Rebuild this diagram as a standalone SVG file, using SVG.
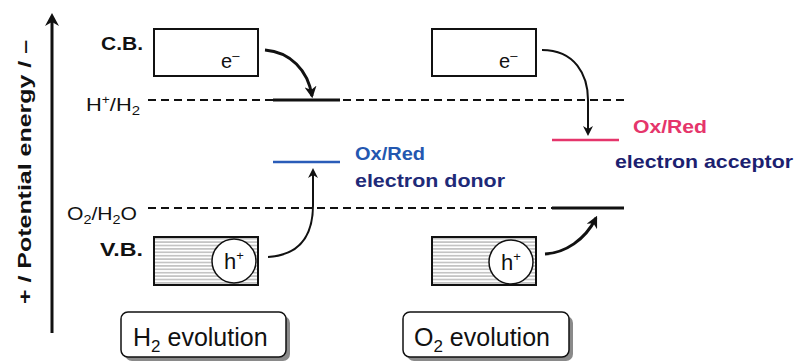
<svg xmlns="http://www.w3.org/2000/svg" width="798" height="362" viewBox="0 0 798 362">
<style>
  text { font-family: "Liberation Sans", Arial, sans-serif; fill: #111; }
  .b { font-weight: bold; }
  .band { fill: #fff; stroke: #111; stroke-width: 2; }
  .dash { stroke: #111; stroke-width: 2; stroke-dasharray: 8 5; fill: none; }
  .lvl { stroke: #111; stroke-width: 3; }
  .arr { fill: none; stroke: #111; }
  .hatch { stroke: #9a9a9a; stroke-width: 1; }
  .lab { fill: #fff; stroke: #111; stroke-width: 1.5; }
  .shadow { fill: #8a8a8a; }
</style>
<defs>
  <marker id="ah" viewBox="0 0 10 10" refX="8" refY="5" markerWidth="5" markerHeight="5" orient="auto" markerUnits="strokeWidth">
    <path d="M0,0 L10,5 L0,10 L3,5 Z" fill="#111"/>
  </marker>
  <marker id="ah2" viewBox="0 0 10 10" refX="8" refY="5" markerWidth="4" markerHeight="4" orient="auto" markerUnits="strokeWidth">
    <path d="M0,0 L10,5 L0,10 L3,5 Z" fill="#111"/>
  </marker>
  <pattern id="hp" width="8" height="3.4" patternUnits="userSpaceOnUse" y="237">
    <line x1="0" y1="1.7" x2="8" y2="1.7" class="hatch"/>
  </pattern>
</defs>

<g id="axis">
  <line x1="52" y1="333" x2="52" y2="22" stroke="#111" stroke-width="3"/>
  <path d="M52,13 L59,26 L52,22 L45,26 Z" fill="#111"/>
  <text class="b" font-size="19" transform="translate(31,172) rotate(-90)" text-anchor="middle" textLength="264" lengthAdjust="spacingAndGlyphs">+ / Potential energy / –</text>
</g>

<g id="levels">
  <text x="86" y="111" font-size="19" textLength="54" lengthAdjust="spacingAndGlyphs">H<tspan font-size="12" dy="-7">+</tspan><tspan dy="7">/H</tspan><tspan font-size="13" dy="4">2</tspan></text>
  <text x="67" y="220" font-size="19" textLength="70" lengthAdjust="spacingAndGlyphs">O<tspan font-size="13" dy="4">2</tspan><tspan dy="-4">/H</tspan><tspan font-size="13" dy="4">2</tspan><tspan dy="-4">O</tspan></text>
  <line class="dash" x1="148" y1="100" x2="625" y2="100"/>
  <line class="dash" x1="148" y1="208" x2="625" y2="208"/>
  <line class="lvl" x1="273" y1="100" x2="340" y2="100"/>
  <line class="lvl" x1="552" y1="208" x2="624" y2="208"/>
</g>

<g id="left-cb">
  <text class="b" x="101" y="50" font-size="18" textLength="42" lengthAdjust="spacingAndGlyphs">C.B.</text>
  <rect class="band" x="154" y="29" width="104" height="47"/>
  <text x="221" y="68" font-size="20">e<tspan font-size="13" dy="-8">–</tspan></text>
</g>

<g id="left-vb">
  <text class="b" x="100" y="256" font-size="18" textLength="43" lengthAdjust="spacingAndGlyphs">V.B.</text>
  <rect x="154" y="237" width="104" height="48" fill="url(#hp)"/>
  <rect x="154" y="237" width="104" height="48" fill="none" stroke="#111" stroke-width="2"/>
  <circle cx="234" cy="261" r="22" fill="#fff" stroke="#111" stroke-width="1.5"/>
  <text x="224" y="269" font-size="22">h<tspan font-size="13" dy="-9">+</tspan></text>
</g>

<g id="donor">
  <line x1="273" y1="162" x2="340" y2="162" stroke="#2a5cb8" stroke-width="2.5"/>
  <text class="b" x="355" y="160" font-size="19" textLength="70" lengthAdjust="spacingAndGlyphs" style="fill:#2357b0">Ox/Red</text>
  <text class="b" x="355" y="187" font-size="19" textLength="150" lengthAdjust="spacingAndGlyphs" style="fill:#1e2a78">electron donor</text>
</g>

<g id="right-cb">
  <rect class="band" x="432" y="29" width="104" height="47"/>
  <text x="499" y="68" font-size="20">e<tspan font-size="13" dy="-8">–</tspan></text>
</g>

<g id="right-vb">
  <rect x="432" y="237" width="104" height="48" fill="url(#hp)"/>
  <rect x="432" y="237" width="104" height="48" fill="none" stroke="#111" stroke-width="2"/>
  <circle cx="511" cy="262" r="22" fill="#fff" stroke="#111" stroke-width="1.5"/>
  <text x="501" y="270" font-size="22">h<tspan font-size="13" dy="-9">+</tspan></text>
</g>

<g id="acceptor">
  <line x1="552" y1="140" x2="619" y2="140" stroke="#e5356b" stroke-width="2.5"/>
  <text class="b" x="633" y="133" font-size="19" textLength="74" lengthAdjust="spacingAndGlyphs" style="fill:#e5356b">Ox/Red</text>
  <text class="b" x="615" y="168" font-size="19" textLength="178" lengthAdjust="spacingAndGlyphs" style="fill:#1c1f70">electron acceptor</text>
</g>

<g id="h2-label">
  <rect class="shadow" x="125" y="316" width="165" height="45" rx="7"/>
  <rect class="lab" x="121" y="312" width="165" height="45" rx="7"/>
  <text x="133" y="346" font-size="25">H<tspan font-size="17" dy="6">2</tspan><tspan dy="-6"> evolution</tspan></text>
</g>

<g id="o2-label">
  <rect class="shadow" x="407" y="316" width="166" height="45" rx="7"/>
  <rect class="lab" x="403" y="312" width="166" height="45" rx="7"/>
  <text x="414" y="346" font-size="25">O<tspan font-size="17" dy="6">2</tspan><tspan dy="-6"> evolution</tspan></text>
</g>

<g id="connectors">
  <path class="arr" stroke-width="3" marker-end="url(#ah2)" d="M265,50 C290,52 308,70 312,96"/>
  <path class="arr" stroke-width="2" marker-end="url(#ah)" d="M542,50 C575,50 588,75 588,100 L588,134"/>
  <path class="arr" stroke-width="2" marker-end="url(#ah)" d="M268,257 C300,255 313,235 313,205 L313,170"/>
  <path class="arr" stroke-width="3" marker-end="url(#ah2)" d="M545,254 C565,253 585,240 596,218"/>
</g>
</svg>
